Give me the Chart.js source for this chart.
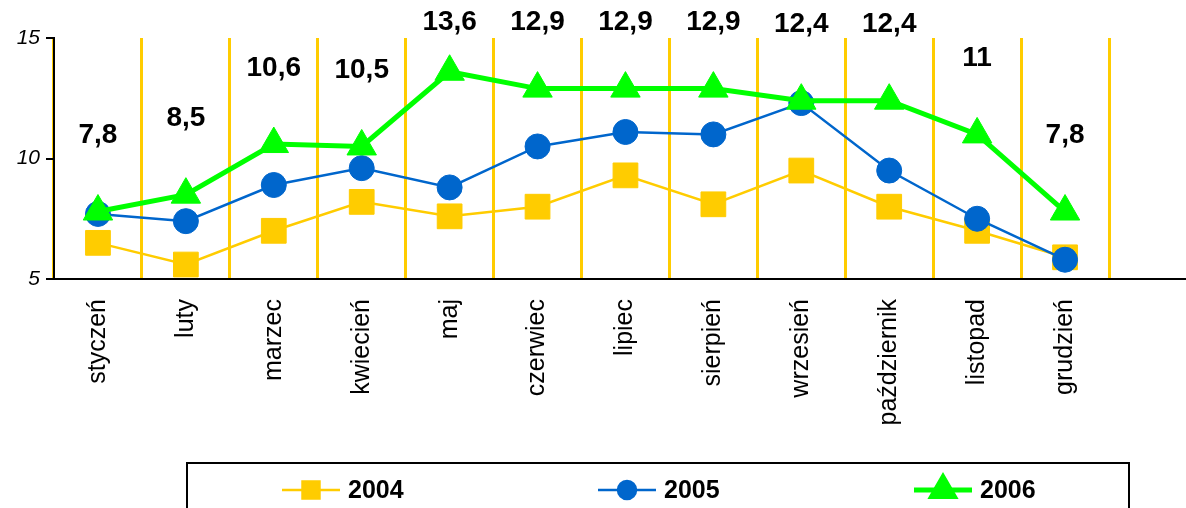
<!DOCTYPE html>
<html>
<head>
<meta charset="utf-8">
<script src="https://cdn.jsdelivr.net/npm/chart.js@4.4.1/dist/chart.umd.min.js"></script>
<style>
  html, body { margin: 0; padding: 0; background: #fff; }
  #wrap { width: 1186px; height: 508px; }
</style>
</head>
<body>
<div id="wrap"><canvas id="wykres" width="1186" height="508"></canvas></div>
<script>
const months = ['styczeń', 'luty', 'marzec', 'kwiecień', 'maj', 'czerwiec', 'lipiec', 'sierpień', 'wrzesień', 'październik', 'listopad', 'grudzień'];
const years = ['2004', '2005', '2006'];
const v2004 = [6.5, 5.6, 7.0, 8.2, 7.6, 8.0, 9.3, 8.1, 9.5, 8.0, 7.0, 5.9];
const v2005 = [7.7, 7.4, 8.9, 9.6, 8.8, 10.5, 11.1, 11.0, 12.3, 9.5, 7.5, 5.8];
const v2006 = [7.8, 8.5, 10.6, 10.5, 13.6, 12.9, 12.9, 12.9, 12.4, 12.4, 11, 7.8];
const yTicks = [5, 10, 15];

const FONT = 'Arial, "Liberation Sans", sans-serif';

// etykiety wartości nad serią 2006
const etykiety = {
  id: 'etykiety',
  afterDatasetsDraw(chart) {
    const ctx = chart.ctx;
    const idx = chart.data.datasets.findIndex(d => d.label === '2006');
    const meta = chart.getDatasetMeta(idx);
    ctx.save();
    ctx.font = 'bold 28px ' + FONT;
    ctx.fillStyle = '#000';
    ctx.textAlign = 'center';
    ctx.textBaseline = 'middle';
    meta.data.forEach((pt, i) => {
      const txt = String(chart.data.datasets[idx].data[i]).replace('.', ',');
      ctx.fillText(txt, pt.x, Math.max(22, pt.y - 76));
    });
    ctx.restore();
  }
};

// oś X dociągnięta do prawej krawędzi + legenda w ramce
const dodatki = {
  id: 'dodatki',
  afterDraw(chart) {
    const ctx = chart.ctx;
    const a = chart.chartArea;
    ctx.save();
    ctx.strokeStyle = '#000';
    ctx.lineWidth = 2;
    ctx.beginPath();
    ctx.moveTo(a.right, a.bottom);
    ctx.lineTo(chart.width, a.bottom);
    ctx.stroke();

    // ramka legendy
    ctx.strokeRect(187, 463, 942, 70);

    const cy = 490;
    const pozycje = [311, 627, 943];
    const rozmiary = { rect: 12, circle: 9, triangle: 13 };
    years.forEach((y, k) => {
      const ds = chart.data.datasets.find(d => d.label === y);
      const cx = pozycje[k];
      ctx.strokeStyle = ds.borderColor;
      ctx.lineWidth = ds.borderWidth;
      ctx.beginPath();
      ctx.moveTo(cx - 29, cy);
      ctx.lineTo(cx + 29, cy);
      ctx.stroke();
      ctx.fillStyle = ds.pointBackgroundColor;
      ctx.strokeStyle = ds.pointBackgroundColor;
      Chart.helpers.drawPoint(ctx, {
        pointStyle: ds.pointStyle,
        radius: rozmiary[ds.pointStyle],
        rotation: 0,
        borderWidth: 1
      }, cx, cy);
      ctx.fillStyle = '#000';
      ctx.font = 'bold 25px ' + FONT;
      ctx.textAlign = 'left';
      ctx.textBaseline = 'middle';
      ctx.fillText(y, cx + 37, cy + 1);
    });
    ctx.restore();
  }
};

new Chart(document.getElementById('wykres'), {
  type: 'line',
  data: {
    labels: months,
    datasets: [
      {
        label: '2004',
        data: v2004,
        borderColor: '#FFCC00',
        borderWidth: 2.5,
        pointStyle: 'rect',
        pointRadius: 17.5,
        pointHoverRadius: 17.5,
        pointBackgroundColor: '#FFCC00',
        pointBorderColor: '#FFCC00',
        pointBorderWidth: 1,
        tension: 0,
        order: 3
      },
      {
        label: '2005',
        data: v2005,
        borderColor: '#0066CC',
        borderWidth: 2.5,
        pointStyle: 'circle',
        pointRadius: 12.5,
        pointHoverRadius: 12.5,
        pointBackgroundColor: '#0066CC',
        pointBorderColor: '#0066CC',
        pointBorderWidth: 1,
        tension: 0,
        order: 2
      },
      {
        label: '2006',
        data: v2006,
        borderColor: '#00FF00',
        borderWidth: 5,
        pointStyle: 'triangle',
        pointRadius: 17,
        pointHoverRadius: 17,
        pointBackgroundColor: '#00FF00',
        pointBorderColor: '#00FF00',
        pointBorderWidth: 1,
        tension: 0,
        order: 1
      }
    ]
  },
  options: {
    responsive: false,
    animation: false,
    devicePixelRatio: 1,
    layout: { padding: { top: 38, right: 77, left: 0, bottom: 0 } },
    plugins: {
      legend: { display: false },
      tooltip: { enabled: false }
    },
    scales: {
      x: {
        offset: true,
        grid: { color: '#FFCC00', lineWidth: 3, offset: true, drawTicks: false },
        border: { color: '#000', width: 2 },
        ticks: {
          color: '#000',
          font: { family: FONT, size: 25 },
          minRotation: 90,
          maxRotation: 90,
          autoSkip: false,
          padding: 20
        },
        afterFit(axis) { axis.height = 229; }
      },
      y: {
        min: 5,
        max: 15,
        afterBuildTicks(axis) { axis.ticks = yTicks.map(v => ({ value: v })); },
        grid: { drawOnChartArea: false, drawTicks: true, tickLength: 8, color: '#000', lineWidth: 2 },
        border: { color: '#000', width: 2 },
        ticks: {
          color: '#000',
          font: { family: FONT, size: 21, style: 'italic' },
          padding: 6
        },
        afterFit(axis) { axis.width = 54; }
      }
    }
  },
  plugins: [etykiety, dodatki]
});
</script>
</body>
</html>
